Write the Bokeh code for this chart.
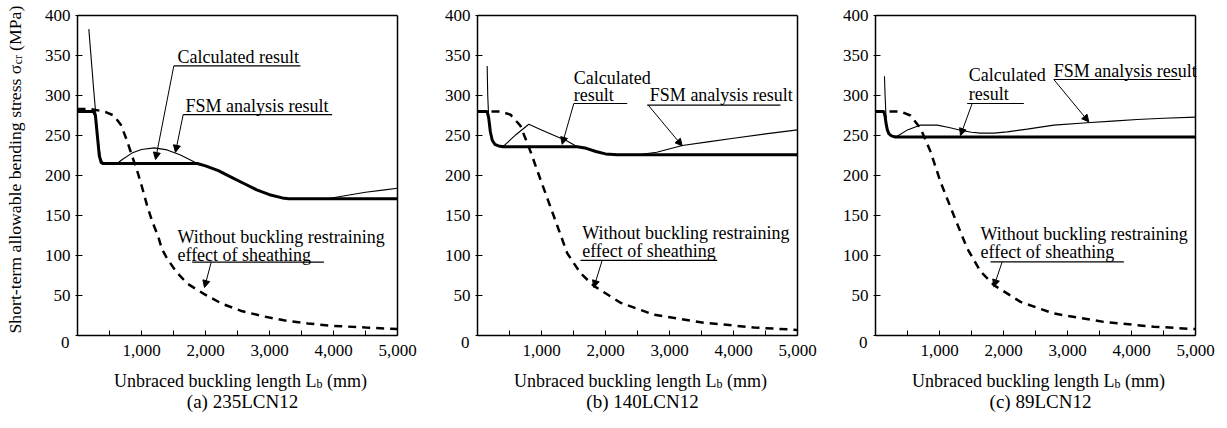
from math import pi

from bokeh.plotting import figure
from bokeh.layouts import row
from bokeh.models import Range1d, FixedTicker, Label, Arrow, NormalHead
from bokeh.embed import file_html
from bokeh.resources import INLINE

FONT = "Liberation Serif"

# ---- (a) 235LCN12 : unbraced length Lb (mm) vs. allowable stress (MPa)
calc_a_x = [0, 250, 280, 310, 340, 370, 400, 1870, 2000, 2200, 2400, 2600, 2800, 3000, 3200, 3300, 5000]
calc_a_y = [280, 280, 275, 250, 225, 216, 215, 215, 212, 206, 198, 190, 182, 176, 172, 171, 171]
fsm_a_x = [177, 250, 320, 360, 400, 620, 700, 850, 1000, 1200, 1400, 1600, 1750, 1870, 2000, 2200,
           2400, 2600, 2800, 3000, 3200, 3300, 3600, 3900, 4200, 4500, 4800, 5000]
fsm_a_y = [383, 310, 245, 222, 215, 215, 220, 228, 232.5, 234.5, 232, 226, 220, 215, 212, 206,
           198, 190, 182, 176, 172, 171, 170, 171, 175, 179, 182, 184]
wo_a_x = [0, 200, 350, 450, 568, 680, 776, 850, 932, 1010, 1089, 1170, 1260, 1320, 1401, 1550,
          1714, 1974, 2250, 2547, 2900, 3224, 3600, 4005, 4500, 5000]
wo_a_y = [283, 283, 281, 279, 275, 263, 243, 225, 206, 185, 162, 142, 124, 108, 96, 79,
          65, 52, 40, 31, 24, 19, 15, 12, 10, 8]

# ---- (b) 140LCN12
calc_b_x = [0, 150, 175, 200, 230, 270, 330, 400, 1560, 1700, 1850, 2000, 2180, 5000]
calc_b_y = [280, 280, 272, 255, 244, 239, 237, 236, 236, 234, 230, 227, 226, 226]
fsm_b_x = [151, 160, 175, 200, 230, 270, 330, 411, 600, 802, 1000, 1200, 1400, 1560, 1700, 1850,
           2000, 2180, 2500, 2800, 3200, 3600, 4000, 4500, 5000]
fsm_b_y = [337, 300, 272, 255, 244, 239, 237, 237, 251, 264, 257, 250, 243, 236, 234, 230,
           227, 226, 226, 229, 237.5, 242, 246.5, 252, 257]
wo_b_x = [0, 359, 516, 672, 828, 984, 1193, 1401, 1609, 1818, 2234, 2755, 3536, 4317, 5000]
wo_b_y = [280, 280, 276, 262, 230, 195, 149, 103, 78, 62, 41, 26, 16, 10, 7]

# ---- (c) 89LCN12
calc_c_x = [0, 130, 150, 165, 185, 210, 250, 310, 360, 5000]
calc_c_y = [280, 280, 274, 265, 257, 252, 249.5, 248, 248, 248]
fsm_c_x = [140, 150, 165, 185, 210, 250, 339, 500, 703, 964, 1150, 1328, 1500, 1641, 1850, 2057,
           2370, 2786, 3307, 3700, 4089, 4500, 5000]
fsm_c_y = [324, 300, 272, 257, 252, 249.5, 249, 257, 263, 263, 260, 256.5, 254, 253, 253, 254.5,
           258, 263, 266, 268, 270, 271.5, 273]
wo_c_x = [0, 391, 547, 703, 859, 1016, 1224, 1432, 1641, 1849, 2266, 2786, 3568, 4349, 5000]
wo_c_y = [280, 280, 275, 259, 230, 192, 150, 109, 80, 63, 42, 27.5, 17, 11, 8]

# ---- axes and titles
y_ticks = [0, 50, 100, 150, 200, 250, 300, 350, 400]
x_ticks = [500, 1000, 1500, 2000, 2500, 3000, 3500, 4000, 4500, 5000]
x_tick_labels = {1000: "1,000", 2000: "2,000", 3000: "3,000", 4000: "4,000", 5000: "5,000"}
x_title = ["Unbraced buckling length L", "b", "(mm)"]
y_title = ["Short-term allowable bending stress \u03c3", "cr", "(MPa)"]
captions = ["(a) 235LCN12", "(b) 140LCN12", "(c) 89LCN12"]

# one screen pixel in data units (320 px box for 5000 mm / 400 MPa)
DX = 5000 / 320.0
DY = 400 / 320.0
Y_HI = 400 + 15 * DY          # 15 px above the box
Y_LO = Y_HI - 428 * DY        # down to the bottom of the canvas
LIFT = 5                      # px: raise baseline-anchored text onto its baseline


def add_text(p, text, x, y, size="18px", **kw):
    p.add_layout(Label(x=x, y=y, text=text, text_font=FONT, text_font_size=size,
                       text_color="black", **kw))


def add_line_text(p, text, x, y, size="18px", **kw):
    # horizontal text placed by its baseline
    add_text(p, text, x, y + LIFT * DY, size=size, text_baseline="alphabetic", **kw)


def add_up_text(p, text, x, y, size="18px"):
    # text reading bottom to top, placed by its baseline
    add_text(p, text, x - LIFT * DX, y, size=size, angle=pi / 2,
             text_align="left", text_baseline="alphabetic")


def panel(calc, fsm, wo, caption, notes, width, left_px, with_ylabel=False):
    # the frame spans the whole canvas; left_px is where Lb = 0 sits
    x_lo = -left_px * DX
    x_hi = x_lo + width * DX
    p = figure(width=width, height=428, x_range=Range1d(x_lo, x_hi), y_range=Range1d(Y_LO, Y_HI),
               output_backend="svg", toolbar_location=None,
               min_border_left=0, min_border_right=0, min_border_top=0, min_border_bottom=0)
    p.background_fill_color = "white"
    p.border_fill_color = "white"
    p.outline_line_color = None
    p.grid.visible = False

    xa = p.xaxis[0]
    xa.fixed_location = 0
    xa.bounds = (0, 5000)
    xa.ticker = FixedTicker(ticks=x_ticks)
    xa.major_label_overrides = {t: x_tick_labels.get(t, "") for t in x_ticks}
    xa.major_tick_in = 5
    xa.major_tick_out = 0
    xa.major_label_standoff = 9

    ya = p.yaxis[0]
    ya.fixed_location = 0
    ya.bounds = (0, 400)
    ya.ticker = FixedTicker(ticks=y_ticks)
    ya.major_label_overrides = {0: ""}
    ya.major_tick_in = 5
    ya.major_tick_out = 2
    ya.major_label_standoff = 5

    for ax in (xa, ya):
        ax.minor_tick_line_color = None
        ax.axis_line_width = 1.5
        ax.axis_line_color = "black"
        ax.major_tick_line_color = "black"
        ax.major_label_text_font = FONT
        ax.major_label_text_font_size = "17px"
        ax.major_label_text_color = "black"

    # top and right edges of the plot box
    p.segment(x0=[0, 5000], y0=[400, 0], x1=[5000, 5000], y1=[400, 400],
              line_width=1.5, color="black")
    # zero of the stress scale, set a little below the corner
    add_text(p, "0", -8 * DX, -7 * DY, size="17px", text_align="right", text_baseline="middle")

    p.line(wo[0], wo[1], line_width=2.5, line_dash="8 6", color="black")
    p.line(fsm[0], fsm[1], line_width=1.1, color="black")
    p.line(calc[0], calc[1], line_width=3, color="black")

    texts, underlines, leaders = notes
    for t, x, y in texts:
        add_line_text(p, t, x, y, text_align="left")
    p.segment(x0=[u[0] for u in underlines], x1=[u[1] for u in underlines],
              y0=[u[2] for u in underlines], y1=[u[2] for u in underlines],
              line_width=1.2, color="black")
    for x0, y0, x1, y1 in leaders:
        p.add_layout(Arrow(x_start=x0, y_start=y0, x_end=x1, y_end=y1, line_width=1,
                           line_color="black",
                           end=NormalHead(size=7, fill_color="black", line_color="black",
                                          line_width=1)))

    # length-axis title with subscript b, then the caption
    x0 = 36.5 * DX
    add_line_text(p, x_title[0], x0, -50 * DY, text_align="left")
    add_line_text(p, x_title[1], x0 + 202.5 * DX, -53.5 * DY, size="12px", text_align="left")
    add_line_text(p, x_title[2], x0 + 213 * DX, -50 * DY, text_align="left")
    add_line_text(p, caption, 2500 + 5 * DX, -71 * DY, size="19px", text_align="center")

    if with_ylabel:
        xl = -58 * DX          # baseline of the rotated stress-axis title
        yb = 2 * DY            # where the title starts
        add_up_text(p, y_title[0], xl, yb, size="17.7px")
        add_up_text(p, y_title[1], xl + 3.5 * DX, yb + 269.3 * DY, size="11.5px")
        add_up_text(p, y_title[2], xl, yb + 282.6 * DY, size="17.7px")
    return p


notes_a = (
    [("Calculated result", 1562, 342), ("FSM analysis result", 1687, 281),
     ("Without buckling restraining", 1562, 117), ("effect of sheathing", 1562, 95)],
    [(1505, 3484, 337), (1651, 3979, 276), (1792, 3849, 91.6)],
    [(1505, 337, 1219, 220), (1651, 276, 1531, 229), (2089, 91.6, 1984, 60)],
)
notes_b = (
    [("Calculated", 1505, 316), ("result", 1505, 295), ("FSM analysis result", 2693, 295),
     ("Without buckling restraining", 1635, 122), ("effect of sheathing", 1635, 99)],
    [(1505, 2339, 290), (2651, 4734, 288), (1609, 3745, 94)],
    [(1505, 290, 1323, 239), (2667, 288, 3198, 237), (1948, 94, 1818, 60)],
)
notes_c = (
    [("Calculated", 1458, 319), ("result", 1458, 296), ("FSM analysis result", 2786, 325),
     ("Without buckling restraining", 1641, 121), ("effect of sheathing", 1641, 98)],
    [(1432, 2318, 290), (2786, 4766, 320), (1797, 3880, 92)],
    [(1510, 290, 1328, 250), (2786, 320, 3333, 267), (1979, 92, 1849, 61)],
)

pa = panel((calc_a_x, calc_a_y), (fsm_a_x, fsm_a_y), (wo_a_x, wo_a_y), captions[0], notes_a,
           420, 77, with_ylabel=True)
pb = panel((calc_b_x, calc_b_y), (fsm_b_x, fsm_b_y), (wo_b_x, wo_b_y), captions[1], notes_b,
           400, 57)
pc = panel((calc_c_x, calc_c_y), (fsm_c_x, fsm_c_y), (wo_c_x, wo_c_y), captions[2], notes_c,
           407, 55)

layout = row(pa, pb, pc)
open("out.html", "w").write(file_html(layout, INLINE))
